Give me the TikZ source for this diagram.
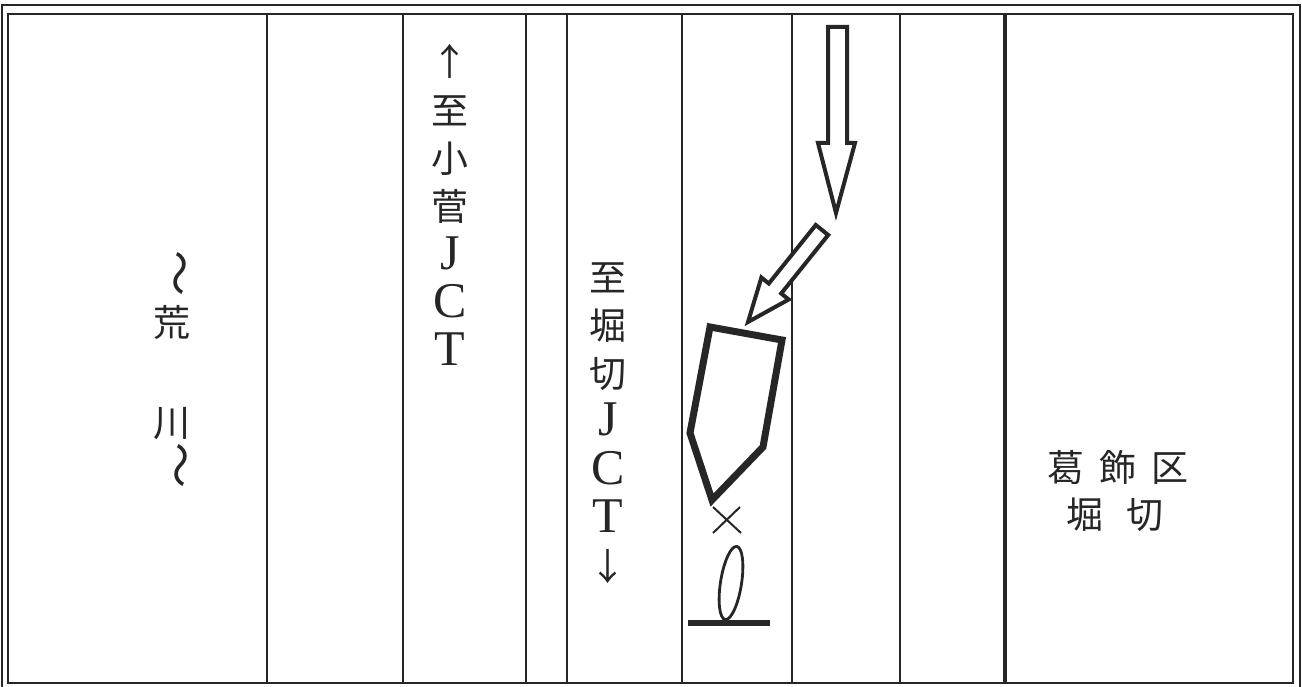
\documentclass[tikz,border=0pt]{standalone}
\usepackage{fontspec}
\newfontfamily\cjk{Noto Sans CJK JP}
\newfontfamily\lat{Liberation Serif}
\newcommand{\vstack}[1]{\vtop{\baselineskip=48.3pt\lineskiplimit=-100pt\lineskip=0pt\halign{\hfil##\hfil\cr#1}}}
\begin{document}
\begin{tikzpicture}[x=1pt,y=-1pt,
  frame/.style={line width=1.8pt,black!85},
  lane/.style={line width=2.2pt,black!85},
  lanebold/.style={line width=3.2pt,black!85},
  hollow/.style={line width=4pt,black!85,line join=miter,fill=white},
  jp/.style={inner sep=0pt,font=\cjk\fontsize{37}{44}\selectfont,text=black!85},
  wave/.style={inner sep=0pt,font=\cjk\fontsize{46}{46}\selectfont,text=black!85,rotate=-90},
  ]
\useasboundingbox (0,0) rectangle (1302,687);
% outer double frame
\draw[frame] (2,687) -- (2,5) -- (1300,5) -- (1300,687);
\draw[frame] (8,683) -- (8,14) -- (1293,14) -- (1293,683) -- cycle;
% lanes
\foreach \x in {267,403,526,567,682,792,900}
  \draw[lane] (\x,14) -- (\x,683);
\draw[lanebold] (1005,14) -- (1005,683);
% down arrow
\draw[hollow] (828,27) -- (847,27) -- (847,143) -- (855,143) -- (836,213) -- (818,143) -- (828,143) -- cycle;
% diagonal arrow
\draw[hollow] (748,322) -- (788.7,299.5) -- (781.2,293.5) -- (828.2,235.0) -- (815.8,225.0) -- (768.8,283.5) -- (761.4,277.5) -- cycle;
% vehicle
\draw[line width=7pt,black!85,line join=miter] (710,327) -- (782,340) -- (763,447) -- (712,500) -- (690,433) -- cycle;
% cross
\draw[line width=2pt,black!85] (713,507) -- (741,533);
\draw[line width=2pt,black!85] (713,533) -- (740,507);
% ellipse and base
\draw[line width=2.8pt,black!85] (731,583) ellipse[x radius=10.5, y radius=37, rotate=-9];
\draw[line width=6pt,black!85] (688,623) -- (770,623);
% texts
\node[wave] (w1) at (174,274) {〜};
\node[jp,anchor=base] (ara) at (172,336) {荒};
\node[jp,anchor=base] (kawa) at (172,436) {川};
\node[wave] (w2) at (175,465) {〜};
\node[jp,anchor=base] (kosuge) at (450,76) {\vstack{↑\cr 至\cr 小\cr 菅\cr {\lat\fontsize{50}{50}\selectfont J}\cr {\lat\fontsize{50}{50}\selectfont C}\cr {\lat\fontsize{50}{50}\selectfont T}\cr}};
\node[jp,anchor=base] (horikiri) at (608,291) {\vstack{至\cr 堀\cr 切\cr {\lat\fontsize{50}{50}\selectfont J}\cr {\lat\fontsize{50}{50}\selectfont C}\cr {\lat\fontsize{50}{50}\selectfont T}\cr ↓\cr}};
\node[jp,anchor=base] (katsu) at (1118,481) {葛\hspace{15pt}飾\hspace{15pt}区};
\node[jp,anchor=base] (hori) at (1115,528) {堀\hspace{24pt}切};
\end{tikzpicture}
\end{document}
